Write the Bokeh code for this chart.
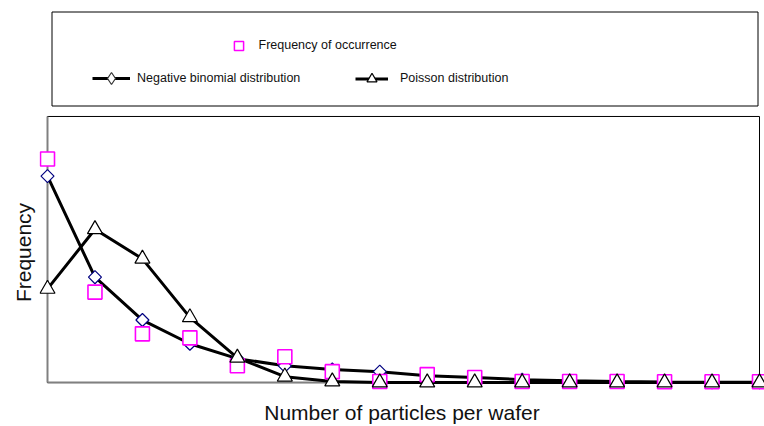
import numpy as np
from bokeh.plotting import figure
from bokeh.models import Range1d, FixedTicker, BoxAnnotation, Legend, LegendItem, ColumnDataSource
from bokeh.layouts import column
from bokeh.embed import file_html
from bokeh.resources import INLINE

# ---------------- data (arbitrary frequency units) -------------
particles = list(range(16))
freq_occurrence = [0.840, 0.340, 0.183, 0.168, 0.063, 0.097, 0.041, 0.004,
                   0.030, 0.019, 0.004, 0.004, 0.004, 0.003, 0.003, 0.003]
neg_binomial = [0.776, 0.396, 0.235, 0.146, 0.090, 0.063, 0.049, 0.041,
                0.026, 0.019, 0.011, 0.007, 0.004, 0.002, 0.001, 0.001]
poisson = [0.352, 0.576, 0.465, 0.245, 0.093, 0.022, 0.004, 0.0,
           0.0, 0.0, 0.0, 0.0, 0.0, 0.0, 0.0, 0.0]

label_freq = "Frequency of occurrence"
label_nb = "Negative binomial distribution"
label_poisson = "Poisson distribution"
x_title = "Number of particles per wafer"
y_title = "Frequency"

FONT = "Liberation Sans"
TXT = "#111111"
W = 764
LEG_H = 112
LEFT = 39

# ---------------- legend panel (coordinates in page pixels) -------------
leg_fig = figure(width=W, height=LEG_H, x_range=Range1d(LEFT, W), y_range=Range1d(LEG_H, 0),
                 x_axis_type=None, y_axis_type=None, toolbar_location=None,
                 output_backend="svg", min_border_left=LEFT, min_border_right=0,
                 min_border_top=0, min_border_bottom=0, outline_line_color=None,
                 background_fill_color="white", border_fill_color="white")
leg_fig.add_layout(BoxAnnotation(left=51.5, right=757.5, top=11.5, bottom=105.5,
                                 fill_color=None, line_color="black", line_alpha=1.0,
                                 line_width=1))

def hidden():
    # points outside the visible range: only used to draw legend keys
    return ColumnDataSource(dict(x=[-50.0, -40.0], y=[-50.0, -40.0]))

d_sq = leg_fig.scatter(x="x", y="y", source=hidden(), marker="square",
                       fill_color="white", line_color="#ff00ff", line_width=1.5)
d_nb_line = leg_fig.line(x="x", y="y", source=hidden(), line_color="black", line_width=3)
d_nb_mk = leg_fig.scatter(x="x", y="y", source=hidden(), marker="diamond",
                          fill_color="white", line_color="#333333", line_width=1.2)
d_po_line = leg_fig.line(x="x", y="y", source=hidden(), line_color="black", line_width=3)
d_po_mk = leg_fig.scatter(x="x", y="y", source=hidden(), marker="triangle",
                          fill_color="white", line_color="black", line_width=1.2)

def make_legend(label, renderers, loc, gw, gh, standoff):
    return Legend(items=[LegendItem(label=label, renderers=renderers)], location=loc,
                  orientation="horizontal", padding=0, margin=0, border_line_color=None,
                  background_fill_alpha=0, glyph_width=gw, glyph_height=gh,
                  label_standoff=standoff, label_text_font=FONT, label_text_font_size="12.5px",
                  label_text_color=TXT, label_height=gh)

leg_fig.add_layout(make_legend(label_freq, [d_sq], (187.5, 55.5), 23, 23, 9))
leg_fig.add_layout(make_legend(label_nb, [d_nb_line, d_nb_mk], (53, 19), 38, 30, 7))
leg_fig.add_layout(make_legend(label_poisson, [d_po_line, d_po_mk], (316, 21.5), 33, 25, 12))

# ---------------- main plot -------------
PX_X = 712 / 15.0   # pixels per particle
PX_Y = 268.0        # pixels per frequency unit
X_MAX, Y_MAX = 15, 1
x_rng = Range1d(-8 / PX_X, X_MAX + 5 / PX_X)
y_rng = Range1d(-10 / PX_Y, Y_MAX + 4 / PX_Y)

p = figure(width=W, height=426 - LEG_H, x_range=x_rng, y_range=y_rng,
           toolbar_location=None, output_backend="svg",
           min_border_left=LEFT, min_border_right=0, min_border_top=0, min_border_bottom=32,
           outline_line_color=None, x_axis_label=x_title, y_axis_label=y_title,
           background_fill_color="white", border_fill_color="white")
p.xgrid.visible = False
p.ygrid.visible = False

# plot box: thin black frame, gray left/bottom axis lines
p.add_layout(BoxAnnotation(left=0, right=X_MAX, bottom=0, top=Y_MAX, fill_color=None,
                           line_color="black", line_alpha=1.0, line_width=1, level="underlay"))
p.add_layout(BoxAnnotation(left=0, right=0, bottom=0, top=Y_MAX, fill_color=None,
                           line_color="#808080", line_alpha=1.0, line_width=2, level="underlay"))
p.add_layout(BoxAnnotation(left=0, right=X_MAX, bottom=0, top=0, fill_color=None,
                           line_color="#808080", line_alpha=1.0, line_width=2, level="underlay"))

for ax in (p.xaxis[0], p.yaxis[0]):
    ax.ticker = FixedTicker(ticks=[])
    ax.minor_tick_line_color = None
    ax.major_tick_line_color = None
    ax.major_tick_out = 0
    ax.major_tick_in = 0
    ax.major_label_standoff = 0
    ax.axis_line_color = None
    ax.axis_label_text_font = FONT
    ax.axis_label_text_font_size = "21px"
    ax.axis_label_text_font_style = "normal"
    ax.axis_label_text_color = TXT
p.xaxis.axis_label_standoff = 8
p.yaxis.axis_label_standoff = 5

src = ColumnDataSource(dict(x=particles, f=freq_occurrence, nb=neg_binomial, po=poisson))
p.line("x", "nb", source=src, line_color="black", line_width=3)
p.line("x", "po", source=src, line_color="black", line_width=3)
p.scatter("x", "nb", source=src, marker="square", angle=np.pi / 4, size=9.2,
          fill_color="white", line_color="#000080", line_width=1.2)
p.scatter("x", "f", source=src, marker="square", size=14,
          fill_color="white", line_color="#ff00ff", line_width=1.6)
p.scatter("x", "po", source=src, marker="triangle", size=15,
          fill_color="white", line_color="black", line_width=1.2)

layout = column(leg_fig, p, spacing=0)
open("out.html", "w").write(file_html(layout, INLINE))
